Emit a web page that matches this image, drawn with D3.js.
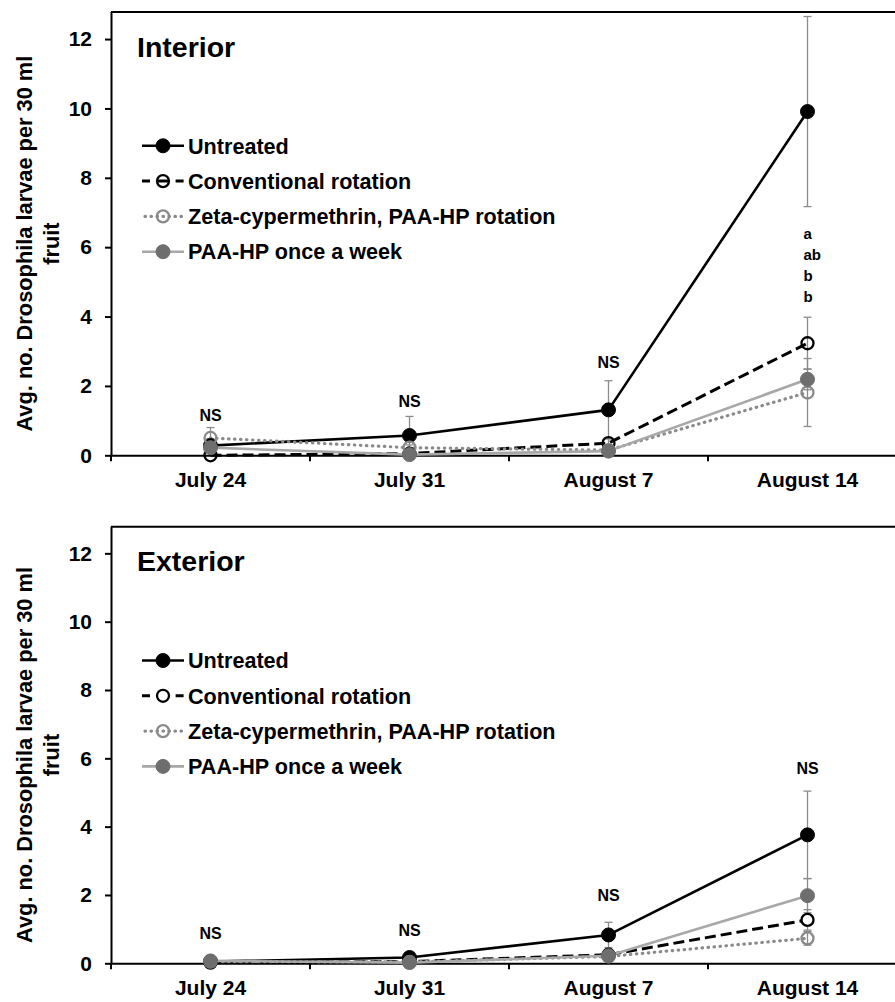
<!DOCTYPE html>
<html>
<head>
<meta charset="utf-8">
<script src="https://cdn.jsdelivr.net/npm/d3@7"></script>
<style>
  html, body { margin: 0; padding: 0; background: #fff; }
  svg { display: block; font-family: "Liberation Sans", Arial, Helvetica, sans-serif; font-weight: bold; }
</style>
</head>
<body>
<svg id="chart" width="895" height="1002"></svg>
<script>
// ---- data ----
const categories = ["July 24", "July 31", "August 7", "August 14"];
const seriesNames = ["Untreated", "Conventional rotation", "Zeta-cypermethrin, PAA-HP rotation", "PAA-HP once a week"];
const yTickValues = [0, 2, 4, 6, 8, 10, 12];
const yAxisMax = 12.78;

// Interior: means and standard errors
const interiorUntreated = [0.28, 0.57, 1.31, 9.91];
const interiorUntreatedErr = [0.2, 0.55, 0.84, 2.74];
const interiorConventional = [0.0, 0.05, 0.35, 3.23];
const interiorConventionalErr = [0.0, 0.05, 0.15, 0.75];
const interiorZeta = [0.5, 0.22, 0.15, 1.81];
const interiorZetaErr = [0.3, 0.08, 0.08, 0.98];
const interiorPaa = [0.22, 0.02, 0.12, 2.19];
const interiorPaaErr = [0.08, 0.02, 0.08, 0.3];
const interiorNs = ["NS", "NS", "NS", ""];
const interiorNsAt = [1.16, 1.55, 2.67, 0];
const interiorLetters = ["a", "ab", "b", "b"];
const interiorLettersAt = 6.35;

// Exterior: means and standard errors
const exteriorUntreated = [0.05, 0.17, 0.83, 3.76];
const exteriorUntreatedErr = [0.04, 0.08, 0.37, 1.28];
const exteriorConventional = [0.02, 0.05, 0.25, 1.27];
const exteriorConventionalErr = [0.02, 0.04, 0.1, 0.3];
const exteriorZeta = [0.05, 0.04, 0.2, 0.73];
const exteriorZetaErr = [0.04, 0.03, 0.08, 0.2];
const exteriorPaa = [0.07, 0.02, 0.22, 1.98];
const exteriorPaaErr = [0.05, 0.02, 0.08, 0.5];
const exteriorNs = ["NS", "NS", "NS", "NS"];
const exteriorNsAt = [0.88, 0.97, 2.0, 5.72];

// ---- layout & styling ----
const svg = d3.select("#chart");
svg.append("rect").attr("width", 895).attr("height", 1002).attr("fill", "#fff");

const axisLeftX = 111;
const axisRightX = 907;
const yLabel = "Avg. no. Drosophila larvae per 30 ml";

const seriesStyles = [
  { stroke: "#000", width: 2.6, dash: null, cap: "butt", mFill: "#000", mStroke: "#000" },
  { stroke: "#000", width: 3, dash: "11,5", cap: "butt", mFill: "none", mStroke: "#000" },
  { stroke: "#8a8a8a", width: 3.2, dash: "0.5,5.5", cap: "round", mFill: "none", mStroke: "#8a8a8a" },
  { stroke: "#a8a8a8", width: 2.6, dash: null, cap: "butt", mFill: "#6e6e6e", mStroke: "#6e6e6e" }
];
const legendDash = [null, "8,7.3,11,7.3,8", "0.5,5.5", null];

const panels = [
  {
    title: "Interior", top: 12, bottom: 455.3, openFill: "none",
    values: [interiorUntreated, interiorConventional, interiorZeta, interiorPaa],
    errors: [interiorUntreatedErr, interiorConventionalErr, interiorZetaErr, interiorPaaErr],
    ns: interiorNs, nsAt: interiorNsAt, letters: interiorLetters, lettersAt: interiorLettersAt
  },
  {
    title: "Exterior", top: 526.7, bottom: 963.3, openFill: "#fff",
    values: [exteriorUntreated, exteriorConventional, exteriorZeta, exteriorPaa],
    errors: [exteriorUntreatedErr, exteriorConventionalErr, exteriorZetaErr, exteriorPaaErr],
    ns: exteriorNs, nsAt: exteriorNsAt, letters: null, lettersAt: 0
  }
];

panels.forEach(p => {
  const g = svg.append("g");
  const x = d3.scaleBand().domain(categories).range([axisLeftX, axisRightX]);
  const cx = c => x(c) + x.bandwidth() / 2;
  const y = d3.scaleLinear().domain([0, yAxisMax]).range([p.bottom, p.top]);

  // top frame line
  g.append("line")
    .attr("x1", axisLeftX).attr("x2", axisRightX)
    .attr("y1", y(yAxisMax)).attr("y2", y(yAxisMax))
    .attr("stroke", "#000").attr("stroke-width", 2);

  // y axis
  const ya = g.append("g")
    .attr("transform", `translate(${axisLeftX},0)`)
    .call(d3.axisLeft(y).tickValues(yTickValues).tickSize(6).tickSizeOuter(0)
      .tickPadding(13).tickFormat(d3.format("d")));
  ya.attr("font-family", null).attr("font-size", null);
  ya.select(".domain").attr("stroke", "#000").attr("stroke-width", 2)
    .attr("d", `M0.5,${y(yAxisMax)}V${y(0)}`);
  ya.selectAll(".tick line").attr("stroke", "#000").attr("stroke-width", 2);
  ya.selectAll(".tick text").attr("font-size", 21).attr("fill", "#000");

  // x axis
  const xa = g.append("g")
    .attr("transform", `translate(0,${y(0)})`)
    .call(d3.axisBottom(x).tickSize(0).tickSizeOuter(0).tickPadding(16.5));
  xa.attr("font-family", null).attr("font-size", null);
  xa.select(".domain").attr("stroke", "#000").attr("stroke-width", 2);
  xa.selectAll(".tick text").attr("font-size", 21).attr("fill", "#000");
  const bounds = categories.map(c => x(c)).concat([x.range()[1]]);
  g.selectAll(".xtickmark").data(bounds).join("line")
    .attr("x1", d => d).attr("x2", d => d)
    .attr("y1", y(0)).attr("y2", y(0) + 6)
    .attr("stroke", "#000").attr("stroke-width", 2);

  // y axis title (two lines)
  const midY = (p.top + p.bottom) / 2 + 10;
  g.append("text")
    .attr("transform", `translate(32,${midY}) rotate(-90)`)
    .attr("text-anchor", "middle").attr("font-size", 21.8).attr("fill", "#000")
    .text(yLabel);
  g.append("text")
    .attr("transform", `translate(59,${midY}) rotate(-90)`)
    .attr("text-anchor", "middle").attr("font-size", 21.8).attr("fill", "#000")
    .text("fruit");

  // panel title
  g.append("text")
    .attr("x", 137).attr("y", p.top + 44.7)
    .attr("font-size", 28.5).attr("fill", "#000")
    .text(p.title);

  // series lines
  const line = d3.line().x((d, i) => cx(categories[i])).y(d => y(d));
  p.values.forEach((vals, s) => {
    const st = seriesStyles[s];
    g.append("path").datum(vals)
      .attr("d", line)
      .attr("fill", "none")
      .attr("stroke", st.stroke).attr("stroke-width", st.width)
      .attr("stroke-dasharray", st.dash).attr("stroke-linecap", st.cap)
      .attr("stroke-linejoin", "round");
  });

  // error bars
  p.values.forEach((vals, s) => {
    const errs = p.errors[s];
    vals.forEach((v, i) => {
      const e = errs[i];
      if (!e) return;
      const xc = cx(categories[i]);
      const eg = g.append("g").attr("stroke", "#8c8c8c").attr("stroke-width", 1.3);
      eg.append("line").attr("x1", xc).attr("x2", xc).attr("y1", y(v + e)).attr("y2", y(Math.max(0, v - e)));
      eg.append("line").attr("x1", xc - 4).attr("x2", xc + 4).attr("y1", y(v + e)).attr("y2", y(v + e));
      if (v - e > 0) {
        eg.append("line").attr("x1", xc - 4).attr("x2", xc + 4).attr("y1", y(v - e)).attr("y2", y(v - e));
      }
    });
  });

  // markers
  p.values.forEach((vals, s) => {
    const st = seriesStyles[s];
    const fill = st.mFill === "none" && s === 1 ? p.openFill : st.mFill;
    g.selectAll(null).data(vals).join("circle")
      .attr("cx", (d, i) => cx(categories[i]))
      .attr("cy", d => y(d))
      .attr("r", st.mFill === "none" ? 6 : 7)
      .attr("fill", fill)
      .attr("stroke", st.mStroke)
      .attr("stroke-width", st.mFill === "none" ? 2.3 : 1);
  });

  // significance labels
  p.ns.forEach((t, i) => {
    if (!t) return;
    g.append("text")
      .attr("x", cx(categories[i])).attr("y", y(p.nsAt[i]) + 5.7)
      .attr("text-anchor", "middle").attr("font-size", 16).attr("fill", "#000")
      .text(t);
  });
  if (p.letters) {
    const lx = cx(categories[3]) - 4;
    p.letters.forEach((t, i) => {
      g.append("text")
        .attr("x", lx).attr("y", y(p.lettersAt) + 4 + i * 21)
        .attr("font-size", 15).attr("fill", "#000")
        .text(t);
    });
  }

  // legend
  const lg = g.append("g");
  seriesNames.forEach((name, s) => {
    const st = seriesStyles[s];
    const ly = p.top + 133.8 + s * 35.3;
    const x1 = 142, x2 = 184;
    lg.append("line")
      .attr("x1", x1).attr("x2", x2).attr("y1", ly).attr("y2", ly)
      .attr("stroke", st.stroke).attr("stroke-width", st.width)
      .attr("stroke-dasharray", legendDash[s]).attr("stroke-linecap", st.cap)
      .attr("stroke-dashoffset", s === 2 ? 3 : 0);
    const fill = st.mFill === "none" && s === 1 ? p.openFill : st.mFill;
    lg.append("circle")
      .attr("cx", (x1 + x2) / 2).attr("cy", ly)
      .attr("r", st.mFill === "none" ? 6 : 7)
      .attr("fill", fill).attr("stroke", st.mStroke)
      .attr("stroke-width", st.mFill === "none" ? 2.3 : 1);
    lg.append("text")
      .attr("x", 188).attr("y", ly + 7.7)
      .attr("font-size", 21.6).attr("fill", "#000")
      .text(name);
  });
});
</script>
</body>
</html>
